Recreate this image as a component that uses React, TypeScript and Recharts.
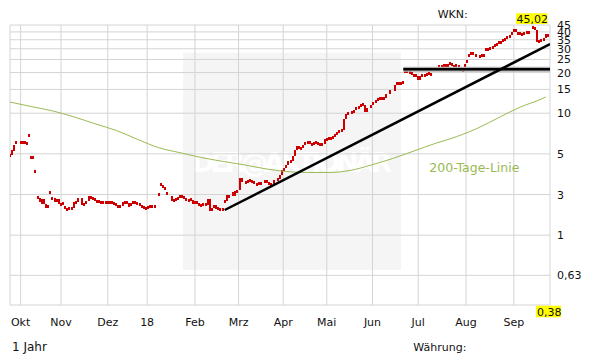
import { Bar, CartesianGrid, ComposedChart, Line, XAxis, YAxis } from "recharts";

// daily closes, one slot per trading day (Sep 2017 - Sep 2018), null = no candle
const closes: (number | null)[] = [
  4.9, 5.3, 5.85, 6.2, null, 6.05, 6.1, 6.05, 5.9, 6.8,
  4.7, 4.7, 3.7, 2.34, 2.2, 2.3, 2.13, 2.0, 2.05, 2.56,
  2.34, 2.2, 2.32, 2.13, 2.12, 2.15, 1.97, 1.94, 1.97, 2.0,
  2.2, 2.2, 2.35, null, 2.07, 2.15, 2.25, 2.45, 2.32, 2.35,
  2.22, 2.2, 2.21, 2.2, 2.16, 2.2, 2.2, 2.15, 2.18, 2.15,
  2.05, 2.03, 2.05, 2.2, 2.18, 2.18, 2.05, 2.15, 2.2, 2.15,
  2.15, 2.07, 2.03, 2.0, 1.96, 2.05, 2.02, 2.03, 2.05, null,
  2.5, 2.95, 2.85, 2.74, 2.45, null, 2.25, 2.3, 2.28, 2.38,
  2.42, 2.4, 2.34, 2.25, 2.3, 2.28, 2.13, 2.2, 2.15, 2.1,
  2.09, 2.15, 2.1, 2.33, 1.9, 1.96, 2.1, 1.97, 1.96, 1.95,
  1.95, 2.24, 2.5, 2.38, null, 2.42, 2.65, 2.6, 3.3, 3.1,
  null, 3.1, 3.15, 3.2, 3.1, 3.05, 2.95, 3.05, 3.05, null,
  3.2, 3.05, 3.0, 2.98, 3.2, null, 3.25, 3.5, 3.8, 3.9,
  4.1, 4.4, 4.4, 4.8, 5.3, 5.7, 5.5, 5.5, 5.8, 6.05,
  6.1, 6.0, 5.85, 6.0, 6.05, 5.85, 5.85, 5.85, 6.4, 6.4,
  6.5, 6.6, 6.7, 7.0, 7.25, 7.45, 7.45, 9.0, 9.8, 10.0,
  null, 10.1, 10.5, 11.0, 11.2, 11.7, 11.5, 10.2, 11.0, null,
  11.6, 12.0, 12.6, 12.7, 13.0, 12.7, 12.8, 13.8, null, 14.8,
  null, 16.3, 16.7, 16.5, 16.6, 17.2, 20.5, 20.2, 20.1, 19.5,
  18.8, 19.0, 17.6, 19.0, 19.0, 19.2, 19.8, 19.4, 19.2, null,
  21.0, 22, 22.4, 22.2, 23, 22.4, 23, 23.5, 22.2, 22.4,
  22.6, 22, 21, 20.7, 22.5, 24.2, 27, 28, 27.5, 26.5,
  null, 26.5, 26.8, 27, 29.5, 30, 30.2, 31, 32.3, 32.6,
  33.8, 33.8, 34.8, 35.5, 36.8, 37.7, 39.9, 41.6, 40.2, 38.6,
  38.7, 38.7, 39.8, 39.8, 39.8, null, 43.5, 41.6, 34.1, 33.9,
  35.5, 35.5, 38.3, 37.3, null,
];

// opens that gap away from the previous close (otherwise open = previous close)
const gapOpens: Record<number, number> = {
  9: 6.9, 10: 4.75, 12: 3.75, 13: 2.4, 15: 2.1, 19: 2.6, 20: 2.37, 26: 2.05,
  70: 2.55, 71: 3.0, 74: 2.6, 96: 2.0, 101: 2.2, 105: 2.6, 108: 2.7,
  186: 20.1, 200: 21.2, 214: 22.8, 215: 24.5, 216: 26.5, 224: 29.8, 246: 42.5,
};

const maDays = [0, 10, 20, 30, 40, 50, 60, 70, 80, 90, 100, 110, 120, 130, 140, 150, 160, 170, 180, 190, 200, 210, 220, 230, 240, 250, 252];
const maValues = [12.1, 11.2, 10.4, 9.4, 8.35, 7.45, 6.4, 5.55, 5.1, 4.7, 4.4, 4.15, 3.88, 3.7, 3.64, 3.64, 3.77, 4.14, 4.62, 5.25, 5.97, 6.7, 7.75, 9.3, 11.1, 12.75, 13.2];

const trendDays = [101, 254];
const trendValues = [1.92, 32.5];
const supportDays = [185, 254];
const supportValues = [21.2, 21.2];

const monthTicks = [5, 24, 46, 64.5, 87, 107.5, 128.5, 149, 170.5, 192, 214.5, 237];
const monthLabels = ["Okt", "Nov", "Dez", "18", "Feb", "Mrz", "Apr", "Mai", "Jun", "Jul", "Aug", "Sep"];
const priceTicks = [0.38, 0.63, 1.25, 2.5, 5, 10, 15, 20, 25, 30, 35, 40, 45];

const lastDay = closes.length - 1;
const font = "'DejaVu Sans', Verdana, sans-serif";
const red = "#cc0000";
const green = "#9aba52";

let prev: number | null = null;
const rows = closes.map((c, i) => {
  const o = gapOpens[i] ?? prev ?? c;
  if (c != null) prev = c;
  const m = maDays.indexOf(i);
  const t = trendDays.indexOf(i);
  const s = supportDays.indexOf(i);
  return {
    i,
    c,
    o,
    ma: m >= 0 ? maValues[m] : null,
    trend: t >= 0 ? trendValues[t] : null,
    support: s >= 0 ? supportValues[s] : null,
  };
});

function Candle(props: any) {
  const { x, y, width, height, payload } = props;
  if (payload.c == null || !Number.isFinite(y)) return null;
  const up = payload.c > payload.o;
  const minH = up ? 3 : 2.5;
  const h = Math.max(height, minH);
  const top = Math.round(y + height / 2 - h / 2);
  const left = Math.round(x);
  if (up) {
    return (
      <rect x={left + 0.5} y={top + 0.5} width={width - 1} height={Math.round(h) - 1} fill="#fff" stroke={red} strokeWidth={1} shapeRendering="crispEdges" />
    );
  }
  return <rect x={left} y={top} width={width} height={Math.round(h)} fill={red} shapeRendering="crispEdges" />;
}

function MonthTick(props: any) {
  const { x, y, payload } = props;
  const k = monthTicks.indexOf(payload.value);
  if (k < 0) return null;
  return (
    <text x={x} y={y + 21} textAnchor="middle" fontSize={11} fontFamily={font} fill="#111">
      {monthLabels[k]}
    </text>
  );
}

function PriceTick(props: any) {
  const { x, y, payload } = props;
  const v: number = payload.value;
  const label = v < 1 ? v.toFixed(2).replace(".", ",") : String(Math.round(v));
  if (v === priceTicks[0]) {
    return (
      <g>
        <rect x={x - 21} y={y + 0.7} width={25} height={11.6} fill="#ffff00" />
        <text x={x - 20} y={y + 10.7} fontSize={11} fontFamily={font} fill="#111">{label}</text>
      </g>
    );
  }
  return (
    <text x={x} y={y + 4} fontSize={11} fontFamily={font} fill="#111">{label}</text>
  );
}

export default function App() {
  return (
    <div style={{ position: "absolute", left: 0, top: 0, width: 611, height: 364, background: "#fff" }}>
      <svg width={611} height={364} style={{ position: "absolute", left: 0, top: 0 }}>
        <rect x={183} y={52.7} width={218} height={217.3} fill="#f5f5f5" />
        <text x={292} y={172} textAnchor="middle" fontSize={27} fontWeight="bold" fontFamily={font} fill="#fff" textLength={200}>
          DER@AKTIONÄR
        </text>
      </svg>
      <div style={{ position: "absolute", left: 0, top: 0 }}>
        <ComposedChart width={611} height={364} data={rows} margin={{ top: 25, right: 0, bottom: 0, left: 10 }}>
          <CartesianGrid stroke="#d4d4d4" />
          <XAxis
            dataKey="i"
            type="number"
            domain={[0, lastDay]}
            allowDataOverflow
            ticks={[0, ...monthTicks, lastDay]}
            interval={0}
            height={59}
            tickSize={0}
            tickMargin={0}
            axisLine={false}
            tick={<MonthTick />}
          />
          <YAxis
            orientation="right"
            scale="log"
            type="number"
            domain={[0.38, 45]}
            allowDataOverflow
            ticks={priceTicks}
            interval={0}
            width={61}
            tickSize={0}
            tickMargin={7}
            axisLine={false}
            tick={<PriceTick />}
          />
          <Line dataKey="ma" stroke={green} strokeWidth={1} dot={false} type="monotone" connectNulls isAnimationActive={false} />
          <Bar
            dataKey={(r: any) => (r.c == null ? null : [Math.min(r.o, r.c), Math.max(r.o, r.c)])}
            barSize={3}
            shape={<Candle />}
            isAnimationActive={false}
          />
          <Line dataKey="support" stroke="#b0b0b0" strokeWidth={5} dot={false} connectNulls isAnimationActive={false} />
          <Line dataKey="support" stroke="#000" strokeWidth={2.5} dot={false} connectNulls isAnimationActive={false} />
          <Line dataKey="trend" stroke="#000" strokeWidth={2.5} dot={false} connectNulls isAnimationActive={false} />
        </ComposedChart>
      </div>
      <svg width={611} height={364} style={{ position: "absolute", left: 0, top: 0, pointerEvents: "none" }} fontFamily={font}>
        <text x={437.7} y={18.3} fontSize={11} fill="#111">WKN:</text>
        <rect x={516} y={13.3} width={31.3} height={10.7} fill="#ffff00" />
        <text x={516.5} y={22.7} fontSize={11} fill="#111">45,02</text>
        <text x={429.3} y={172.4} fontSize={12.5} fill={green}>200-Tage-Linie</text>
        <text x={12} y={351} fontSize={12} fill="#111">1 Jahr</text>
        <text x={413.3} y={351} fontSize={11} fill="#111">Währung:</text>
      </svg>
    </div>
  );
}
